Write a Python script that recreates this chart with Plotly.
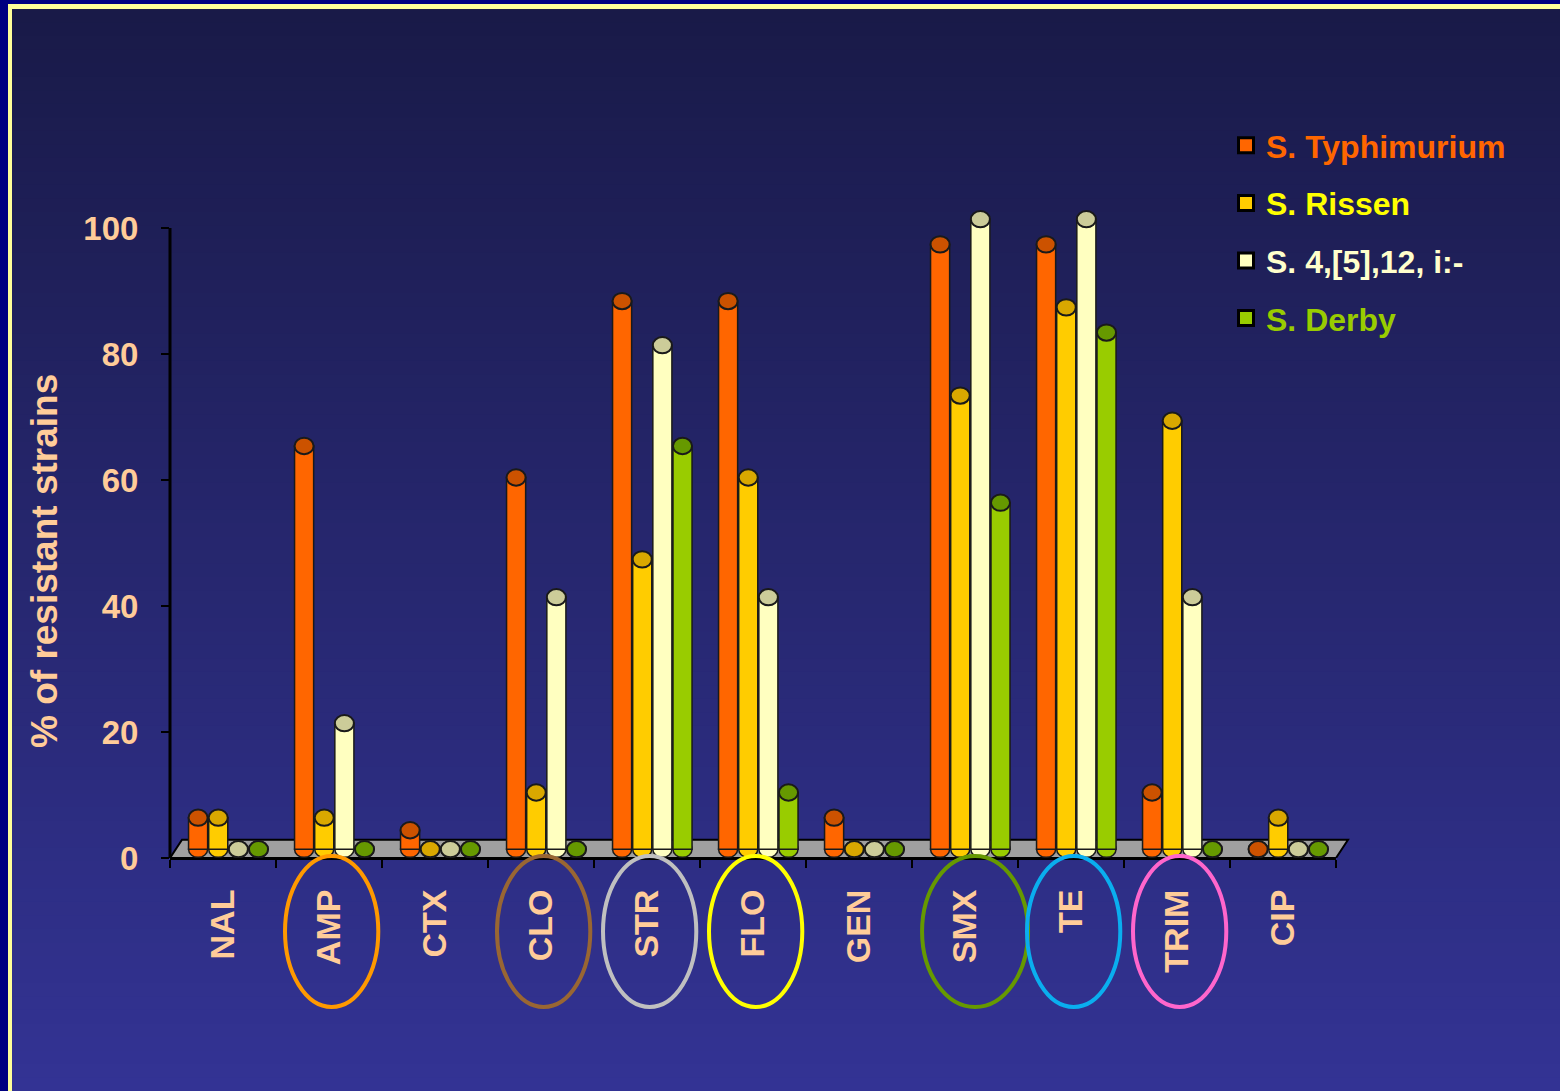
import plotly.graph_objects as go

# ---------------- data ----------------
categories = ["NAL", "AMP", "CTX", "CLO", "STR", "FLO", "GEN", "SMX", "TE", "TRIM", "CIP"]
series_names = ["S. Typhimurium", "S. Rissen", "S. 4,[5],12, i:-", "S. Derby"]
typhimurium = [5, 64, 3, 59, 87, 87, 5, 96, 96, 9, 0]
rissen = [5, 5, 0, 9, 46, 59, 0, 72, 86, 68, 5]
s4512 = [0, 20, 0, 40, 80, 40, 0, 100, 100, 40, 0]
derby = [0, 0, 0, 0, 64, 9, 0, 55, 82, 0, 0]
y_ticks = [0, 20, 40, 60, 80, 100]
highlighted = ["AMP", "CLO", "STR", "FLO", "SMX", "TE", "TRIM"]

# ---------------- styles ----------------
bar_colors = ["#FF6600", "#FFCC00", "#FFFFC0", "#99CC00"]
top_colors = ["#CC5200", "#D9A800", "#CCCC99", "#669900"]
legend_text_colors = ["#FF6600", "#FFFF00", "#FFFFCC", "#99CC00"]
highlight_colors = {"AMP": "#FF9900", "CLO": "#996633", "STR": "#C0C0C0", "FLO": "#FFFF00",
                    "SMX": "#669900", "TE": "#0AAEEF", "TRIM": "#FF66CC"}
highlight_halfwidth = {"SMX": 0.50}
highlight_shift = {"SMX": 0.095}
LABEL_COLOR = "#FFCC99"
FONT = "Arial, Liberation Sans, sans-serif"

W, H = 1560, 1091
PLOT_L, PLOT_R, PLOT_B = 170, 1336, 858
PX_PER_UNIT = 6.3
Y_MAX = 106
PLOT_T = PLOT_B - Y_MAX * PX_PER_UNIT
BASE = 1.4          # bars stand in the middle of the floor depth
CAP = 1.3           # half-height of cylinder caps (data units)
FLOOR_DEPTH = 2.9
PITCH = 0.19        # distance between neighbouring bars (category units)
BW = 0.18           # bar width (category units)
DEPTH_SHIFT = 0.05  # 3-D depth offset of bars to the right


def px_x(p):
    return p / W


def px_y(p):
    return 1 - p / H


all_series = [typhimurium, rissen, s4512, derby]

fig = go.Figure()
for j, (name, vals) in enumerate(zip(series_names, all_series)):
    fig.add_trace(go.Bar(
        x=categories, y=vals, base=BASE, name=name, showlegend=False,
        width=BW, offset=(j - 1.5) * PITCH - BW / 2 + DEPTH_SHIFT,
        marker=dict(color=bar_colors[j], line=dict(color="#1a1a1a", width=1.5)),
    ))
# legend entries
for j, name in enumerate(series_names):
    fig.add_trace(go.Scatter(
        x=[None], y=[None], mode="markers", legendgroup=f"g{j}",
        name=f"<span style='color:{legend_text_colors[j]}'>{name}</span>",
        marker=dict(symbol="square", size=15, color=bar_colors[j],
                    line=dict(color="#000000", width=3)),
    ))

shapes = []
# background: border + vertical gradient
shapes.append(dict(type="rect", xref="paper", yref="paper", layer="below",
                   x0=0, x1=1, y0=0, y1=1,
                   fillcolor="#000080", line=dict(width=0)))
shapes.append(dict(type="rect", xref="paper", yref="paper", layer="below",
                   x0=px_x(8), x1=1, y0=0, y1=px_y(4),
                   fillcolor="#FFFF99", line=dict(width=0)))
c_top = (0x19, 0x1A, 0x48)
c_bot = (0x33, 0x33, 0x94)
n_bands = 80
y_start = 9
for k in range(n_bands):
    t = k / (n_bands - 1)
    col = tuple(round(a + (b - a) * t) for a, b in zip(c_top, c_bot))
    y0p = y_start + (H - y_start) * k / n_bands
    y1p = min(y_start + (H - y_start) * (k + 1) / n_bands + 1, H)
    shapes.append(dict(type="rect", xref="paper", yref="paper", layer="below",
                       x0=px_x(12), x1=1, y0=px_y(y1p), y1=px_y(y0p),
                       fillcolor="rgb(%d,%d,%d)" % col, line=dict(width=0)))

# floor
fx0, fx1, fsh = px_x(PLOT_L), px_x(PLOT_R), px_x(12)
shapes.append(dict(type="path", xref="paper", yref="y", layer="below",
                   path=f"M {fx0} 0 L {fx1} 0 L {fx1 + fsh} {FLOOR_DEPTH} L {fx0 + fsh} {FLOOR_DEPTH} Z",
                   fillcolor="#A0A0A0", line=dict(color="#000000", width=2)))

# cylinder bottoms and tops
tops = []
for j, vals in enumerate(all_series):
    for i, v in enumerate(vals):
        xc = i + (j - 1.5) * PITCH + DEPTH_SHIFT
        shapes.append(dict(type="circle", xref="x", yref="y", layer="below",
                           x0=xc - BW / 2, x1=xc + BW / 2, y0=BASE - CAP, y1=BASE + CAP,
                           fillcolor=bar_colors[j], line=dict(color="#1a1a1a", width=1.5)))
        tops.append(dict(type="circle", xref="x", yref="y", layer="above",
                         x0=xc - BW / 2, x1=xc + BW / 2, y0=BASE + v - CAP, y1=BASE + v + CAP,
                         fillcolor=top_colors[j], line=dict(color="#1a1a1a", width=2)))
shapes.extend(tops)

# y axis line 0..100
shapes.append(dict(type="line", xref="paper", yref="y", layer="above",
                   x0=px_x(PLOT_L), x1=px_x(PLOT_L), y0=0, y1=100,
                   line=dict(color="#000000", width=3)))

# highlighted category label ellipses
for cat in highlighted:
    i = categories.index(cat) + highlight_shift.get(cat, 0.025)
    hw = highlight_halfwidth.get(cat, 0.44)
    shapes.append(dict(type="circle", xref="x", yref="paper", layer="above",
                       x0=i - hw, x1=i + hw, y0=px_y(1007), y1=px_y(856),
                       line=dict(color=highlight_colors[cat], width=4)))

annotations = [dict(text="% of resistant strains", textangle=-90, showarrow=False,
                    xref="paper", yref="paper", x=px_x(44), y=px_y(561),
                    xanchor="center", yanchor="middle",
                    font=dict(family=FONT, size=37, color=LABEL_COLOR, weight="bold"))]

fig.update_layout(
    width=W, height=H,
    margin=dict(l=0, r=0, t=0, b=0),
    paper_bgcolor="#1a1a4a",
    plot_bgcolor="rgba(0,0,0,0)",
    barmode="overlay",
    shapes=shapes, annotations=annotations,
    showlegend=True,
    legend=dict(x=px_x(1226), y=px_y(118), xanchor="left", yanchor="top",
                bgcolor="rgba(0,0,0,0)", traceorder="grouped", tracegroupgap=13,
                font=dict(family=FONT, size=32, weight="bold", color="#FFFFFF")),
    xaxis=dict(domain=[PLOT_L / W, PLOT_R / W], type="category",
               range=[-0.5, len(categories) - 0.5],
               showline=True, linecolor="#000000", linewidth=2,
               ticks="outside", tickson="boundaries", ticklen=8, tickcolor="#000000", tickwidth=2,
               tickangle=-90, ticklabelstandoff=16, automargin=False, showgrid=False,
               tickfont=dict(family=FONT, size=34, color=LABEL_COLOR, weight="bold")),
    yaxis=dict(domain=[(H - PLOT_B) / H, (H - PLOT_T) / H], range=[0, Y_MAX],
               tickvals=y_ticks, showline=False, showgrid=False, zeroline=False,
               ticks="outside", ticklen=8, tickcolor="#000000", tickwidth=2,
               ticklabelstandoff=16, automargin=False,
               tickfont=dict(family=FONT, size=33, color=LABEL_COLOR, weight="bold")),
)

fig.write_html("out.html")
